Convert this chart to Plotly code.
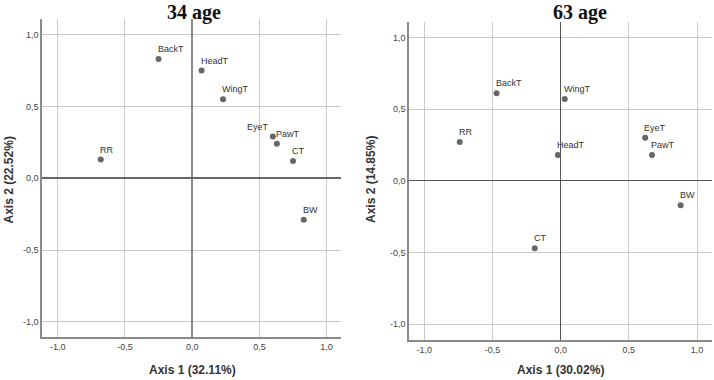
import plotly.graph_objects as go

# ---- data ----
variables = ["BackT", "HeadT", "WingT", "EyeT", "PawT", "CT", "RR", "BW"]
age34_axis1 = [-0.25, 0.07, 0.23, 0.60, 0.63, 0.75, -0.68, 0.83]
age34_axis2 = [0.83, 0.75, 0.55, 0.29, 0.24, 0.12, 0.13, -0.29]
age63_axis1 = [-0.47, -0.02, 0.03, 0.62, 0.67, -0.19, -0.74, 0.88]
age63_axis2 = [0.61, 0.18, 0.57, 0.30, 0.18, -0.47, 0.27, -0.17]

panel_titles = ["34 age", "63 age"]
x_titles = ["Axis 1 (32.11%)", "Axis 1 (30.02%)"]
y_titles = ["Axis 2 (22.52%)", "Axis 2 (14.85%)"]
tick_vals = [-1.0, -0.5, 0.0, 0.5, 1.0]
tick_text = ["-1,0", "-0,5", "0,0", "0,5", "1,0"]

W, H = 714, 380
fig = go.Figure()

MARK = "#666666"
fig.add_trace(go.Scatter(x=age34_axis1, y=age34_axis2, mode="markers",
                         marker=dict(color=MARK, size=6), xaxis="x", yaxis="y",
                         hoverinfo="skip", showlegend=False))
fig.add_trace(go.Scatter(x=age63_axis1, y=age63_axis2, mode="markers",
                         marker=dict(color=MARK, size=6), xaxis="x2", yaxis="y2",
                         hoverinfo="skip", showlegend=False))

def px(v):
    return v / W

def py(v):
    return 1 - v / H

common = dict(tickvals=tick_vals, ticktext=tick_text, showgrid=True,
              gridcolor="#c9c9c9", gridwidth=1, showline=True, linecolor="#8a8a8a",
              linewidth=1.5, ticks="", tickfont=dict(family="Liberation Sans", size=9, color="#444444"),
              zeroline=True, fixedrange=True)

fig.update_layout(
    width=W, height=H, margin=dict(l=0, r=0, t=0, b=0),
    paper_bgcolor="white", plot_bgcolor="white",
    xaxis=dict(domain=[px(42), px(341)], range=[-1.117, 1.107], anchor="y",
               zerolinecolor="#8a8a8a", zerolinewidth=2, **common),
    yaxis=dict(domain=[py(337), py(19)], range=[-1.106, 1.109], anchor="x",
               zerolinecolor="#666666", zerolinewidth=1.5, **common),
    xaxis2=dict(domain=[px(409), px(712)], range=[-1.112, 1.11], anchor="y2",
                zerolinecolor="#555555", zerolinewidth=1, **common),
    yaxis2=dict(domain=[py(340), py(22)], range=[-1.11, 1.107], anchor="x2",
                zerolinecolor="#555555", zerolinewidth=1, **common),
)

ann = []
# point labels
for (xs, ys, xr, yr, panel) in [(age34_axis1, age34_axis2, "x", "y", 0),
                                (age63_axis1, age63_axis2, "x2", "y2", 1)]:
    for name, xv, yv in zip(variables, xs, ys):
        left_side = (panel == 0 and name == "EyeT")
        ann.append(dict(x=xv, y=yv, xref=xr, yref=yr, text=name, showarrow=False,
                        xanchor="right" if left_side else "left", yanchor="bottom",
                        xshift=-2 if left_side else -3, yshift=3,
                        font=dict(family="Liberation Sans", size=9, color="#333333")))

# titles
for t, cx in zip(panel_titles, [193.5, 580]):
    ann.append(dict(x=px(cx), y=1, xref="paper", yref="paper", text="<b>%s</b>" % t,
                    showarrow=False, xanchor="center", yanchor="top", borderpad=0,
                    font=dict(family="Liberation Serif", size=20, color="#111111")))
for t, cx in zip(x_titles, [192, 560]):
    ann.append(dict(x=px(cx), y=py(370), xref="paper", yref="paper", text="<b>%s</b>" % t,
                    showarrow=False, xanchor="center", yanchor="middle",
                    font=dict(family="Liberation Sans", size=12, color="#333333")))
for t, cx in zip(y_titles, [8.5, 371]):
    ann.append(dict(x=px(cx), y=py(180), xref="paper", yref="paper", text="<b>%s</b>" % t,
                    showarrow=False, xanchor="center", yanchor="middle", textangle=-90,
                    font=dict(family="Liberation Sans", size=12, color="#333333")))

fig.update_layout(annotations=ann)
fig.write_html("out.html")
